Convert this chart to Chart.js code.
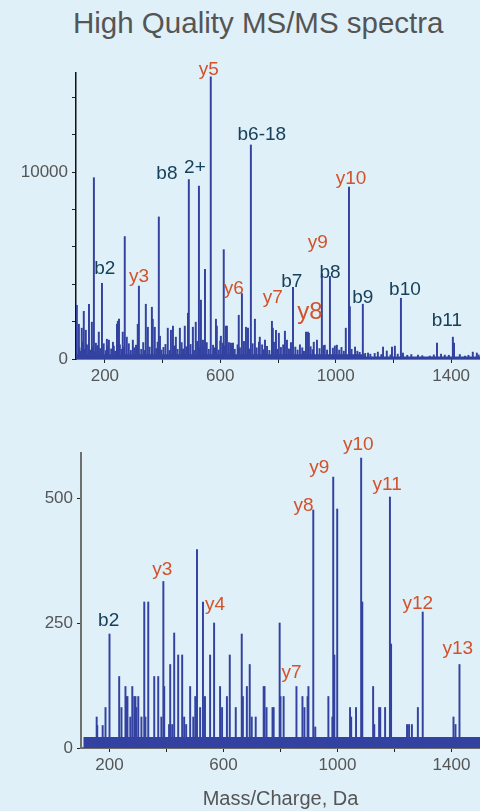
<!DOCTYPE html>
<html>
<head>
<meta charset="utf-8">
<script src="https://cdn.jsdelivr.net/npm/chart.js@4.4.1/dist/chart.umd.min.js"></script>
<style>
  body { margin: 0; background: #dff0f8; }
  #page { position: relative; width: 480px; height: 811px; background: #dff0f8; overflow: hidden; }
  #title { position: absolute; left: 73px; top: 6px; font-family: "Liberation Sans", Arial, sans-serif; font-size: 29.5px; color: #555; white-space: nowrap; }
  .box { position: absolute; left: 0; width: 480px; }
</style>
</head>
<body>
<div id="page">
  <div id="title">High Quality MS/MS spectra</div>
  <div class="box" style="top:0;height:400px"><canvas id="top" width="480" height="400"></canvas></div>
  <div class="box" style="top:420px;height:391px"><canvas id="bottom" width="480" height="391"></canvas></div>
</div>
<script>
// --- data (m/z, intensity) ---
const topPeaks = [
  [162, 9700], [190, 4050], [269, 6550], [318, 3900], [387, 7600], [491, 9600],
  [526, 9250], [533, 3150], [547, 4800], [567, 15100], [612, 5850], [675, 3500],
  [706, 11450], [852, 3830], [952, 4570], [980, 4420], [1046, 9200], [1049, 2800],
  [1094, 2930], [1226, 3250], [1351, 850], [1406, 1170], [1410, 850]
];
const topSmall = [
  [103, 2870], [110, 1860], [120, 1650], [127, 2550], [134, 1540], [145, 2930],
  [155, 1970], [169, 850], [179, 1440], [207, 1060], [214, 1010], [231, 690],
  [242, 1860], [245, 2020], [249, 2130], [262, 1440], [276, 1170], [297, 1010],
  [314, 1860], [342, 2930], [349, 1700], [363, 2770], [366, 2130], [373, 1700],
  [391, 1220], [418, 1650], [429, 1540], [436, 1760], [446, 1170], [460, 1650],
  [477, 1760], [488, 2450], [505, 1700], [515, 1970], [540, 1010], [585, 2130],
  [588, 1760], [602, 1220], [609, 850], [619, 1760], [623, 1760], [637, 850],
  [640, 740], [644, 850], [664, 2340], [689, 1700], [696, 1650], [720, 2130],
  [734, 900], [737, 1170], [755, 1010], [779, 2020], [782, 1650], [793, 1540],
  [803, 1380], [824, 1490], [831, 1010], [897, 1440], [904, 1440], [907, 1380],
  [924, 900], [935, 1010], [962, 740], [1004, 740], [1035, 1650], [1067, 640],
  [1112, 320], [1146, 370], [1164, 640], [1177, 430], [1195, 640], [1205, 690],
  [1233, 320], [1285, 210], [1326, 160], [1378, 210], [1448, 160], [1475, 370], [1489, 320]
];
const topGrass = [
  [112, 600], [117, 420], [124, 900], [131, 520], [138, 760], [150, 480], [158, 640],
  [166, 380], [174, 720], [184, 560], [196, 820], [203, 450], [211, 680], [222, 540],
  [228, 900], [236, 420], [252, 760], [258, 520], [266, 640], [283, 820], [290, 460],
  [302, 600], [308, 740], [326, 520], [333, 880], [338, 460], [355, 640], [378, 560],
  [383, 900], [396, 480], [403, 620], [410, 780], [424, 460], [440, 700], [452, 520],
  [466, 880], [471, 540], [482, 660], [497, 780], [510, 460], [520, 940], [529, 600],
  [538, 700], [553, 880], [560, 520], [575, 740], [580, 600], [594, 480], [600, 960],
  [616, 700], [630, 880], [650, 520], [660, 760], [668, 600], [682, 940], [700, 540],
  [712, 820], [726, 600], [745, 760], [750, 500], [762, 680], [770, 460], [786, 900],
  [798, 520], [810, 620], [818, 760], [838, 540], [845, 880], [860, 640], [868, 480],
  [876, 760], [884, 600], [890, 420], [913, 660], [920, 500], [944, 560], [958, 720],
  [970, 480], [990, 580], [997, 700], [1012, 480], [1020, 620], [1028, 420], [1055, 520],
  [1075, 420], [1083, 360], [1102, 300], [1120, 260], [1135, 300], [1158, 240],
  [1190, 220], [1215, 260], [1248, 200], [1262, 240], [1300, 180], [1340, 220],
  [1365, 260], [1392, 200], [1430, 240], [1460, 200], [1495, 220]
];
// noise floor level (m/z, intensity), stepped
const topFloor = [[100, 260], [1100, 130], [1500, 130]];

const bottomPeaks = [
  [155, 62], [157, 45], [176, 45], [186, 81], [200, 228], [234, 143], [242, 81],
  [256, 123], [259, 103], [263, 103], [273, 62], [280, 123], [287, 103], [291, 103],
  [294, 81], [301, 103], [312, 62], [322, 292], [326, 62], [336, 292], [357, 143],
  [371, 143], [382, 62], [389, 333], [392, 123], [409, 47], [413, 167], [420, 47],
  [427, 230], [441, 186], [455, 186], [462, 62], [469, 47], [483, 123], [494, 62],
  [501, 103], [507, 397], [518, 81], [528, 292], [535, 103], [553, 186], [567, 250],
  [588, 123], [595, 81], [612, 103], [622, 186], [643, 81], [664, 228], [668, 103],
  [682, 123], [692, 167], [699, 62], [713, 62], [741, 123], [744, 123], [751, 81],
  [772, 81], [776, 81], [797, 250], [800, 103], [811, 103], [856, 123], [877, 103],
  [884, 81], [895, 103], [898, 123], [915, 476], [922, 42], [968, 103], [982, 62],
  [985, 542], [989, 186], [999, 478], [1044, 81], [1048, 62], [1065, 81], [1083, 580],
  [1087, 292], [1125, 123], [1129, 47], [1146, 81], [1150, 81], [1167, 81], [1184, 502],
  [1188, 208], [1244, 47], [1251, 47], [1261, 47], [1282, 81], [1299, 272],
  [1407, 62], [1414, 47], [1428, 167]
];
const bottomFloor = [[108, 22], [1500, 22]];

// peak annotations: text, m/z, intensity (label centre)
const topLabels = [
  ["y5", 560, 15480, "y"], ["b6-18", 744, 11970, "b"], ["b8", 415, 9900, "b"],
  ["2+", 512, 10210, "b"], ["b2", 200, 4840, "b"], ["y3", 318, 4420, "y"],
  ["y6", 647, 3780, "y"], ["y7", 782, 3250, "y"], ["y8", 911, 2500, "Y"],
  ["b7", 848, 4150, "b"], ["y9", 938, 6220, "y"], ["b8", 980, 4630, "b"],
  ["y10", 1053, 9630, "y"], ["b9", 1094, 3250, "b"], ["b10", 1240, 3720, "b"],
  ["b11", 1385, 2020, "b"]
];
const bottomLabels = [
  ["b2", 197, 254, "b"], ["y3", 385, 357, "y"], ["y4", 570, 286, "y"],
  ["y7", 839, 151, "y"], ["y8", 881, 484, "y"], ["y9", 936, 560, "y"],
  ["y10", 1073, 607, "y"], ["y11", 1174, 526, "y"], ["y12", 1282, 288, "y"],
  ["y13", 1422, 198, "y"]
];

const xTicks = [200, 400, 600, 800, 1000, 1200, 1400];
const xTickLabels = [200, 600, 1000, 1400];
const topYTicks = [0, 2000, 4000, 6000, 8000, 10000, 12000, 14000];
const topYTickLabels = [0, 10000];
const bottomYTicks = [0, 250, 500];

const FONT = "'Liberation Sans', Arial, sans-serif";
const BAR = "#3342a0";
const ORANGE = "#d2522a";
const TEAL = "#17405a";

function pts(list) {
  return list.map(function (p) { return { x: p[0], y: p[1] }; });
}

const peakLabels = {
  id: "peakLabels",
  afterDatasetsDraw: function (chart, args, opts) {
    const ctx = chart.ctx;
    const xs = chart.scales.x, ys = chart.scales.y;
    ctx.save();
    ctx.textAlign = "center";
    ctx.textBaseline = "middle";
    opts.labels.forEach(function (l) {
      const big = l[3] === "Y";
      ctx.font = (big ? "24px " : "19px ") + FONT;
      ctx.fillStyle = l[3] === "b" ? TEAL : ORANGE;
      ctx.fillText(l[0], xs.getPixelForValue(l[1]), ys.getPixelForValue(l[2]));
    });
    ctx.restore();
  }
};

function makeChart(id, cfg) {
  return new Chart(document.getElementById(id), {
    type: "bar",
    data: {
      datasets: [
        {
          type: "line", data: pts(cfg.floor), stepped: true, fill: "origin",
          backgroundColor: BAR, borderWidth: 0, pointRadius: 0, order: 2
        },
        {
          data: pts(cfg.bars), backgroundColor: BAR, barThickness: 1.3,
          grouped: false, order: 1
        }
      ]
    },
    options: {
      responsive: false,
      animation: false,
      layout: { padding: { top: cfg.padTop, right: 0, left: 0, bottom: 0 } },
      plugins: {
        legend: { display: false },
        tooltip: { enabled: false },
        peakLabels: { labels: cfg.labels }
      },
      scales: {
        x: {
          type: "linear", min: 100, max: 1500, offset: false,
          afterBuildTicks: function (s) { s.ticks = xTicks.map(function (v) { return { value: v }; }); },
          afterFit: function (s) { s.height = cfg.xHeight; },
          border: { color: cfg.xAxisColor, width: cfg.axisWidth },
          grid: { drawOnChartArea: false, offset: false, tickLength: 4, color: "#222" },
          ticks: {
            maxRotation: 0, autoSkip: false, padding: 3,
            color: "#555", font: { family: FONT, size: 17 },
            callback: function (v) { return xTickLabels.indexOf(v) >= 0 ? String(v) : ""; }
          },
          title: {
            display: !!cfg.xTitle, text: cfg.xTitle || "", color: "#555",
            font: { family: FONT, size: 20 }, padding: { top: 0, bottom: 0 }
          }
        },
        y: {
          min: 0, max: cfg.yMax,
          afterBuildTicks: function (s) { s.ticks = cfg.yTicks.map(function (v) { return { value: v }; }); },
          afterFit: function (s) { s.width = cfg.yWidth; },
          border: { color: cfg.yAxisColor, width: cfg.axisWidth },
          grid: { drawOnChartArea: false, tickLength: 4, color: "#222" },
          ticks: {
            autoSkip: false, padding: 4,
            color: "#555", font: { family: FONT, size: 17 },
            callback: cfg.yCallback
          }
        }
      }
    },
    plugins: [peakLabels]
  });
}

makeChart("top", {
  floor: topFloor,
  bars: topPeaks.concat(topSmall, topGrass),
  labels: topLabels,
  padTop: 73, xHeight: 41, yWidth: 76,
  yMax: 15300, yTicks: topYTicks,
  xAxisColor: "#111", yAxisColor: "#111", axisWidth: 1.5,
  yCallback: function (v) { return topYTickLabels.indexOf(v) >= 0 ? String(v) : ""; }
});

makeChart("bottom", {
  floor: bottomFloor,
  bars: bottomPeaks,
  labels: bottomLabels,
  padTop: 33, xHeight: 63, yWidth: 81,
  yMax: 590, yTicks: bottomYTicks,
  xAxisColor: "#6f6f6f", yAxisColor: "#6f6f6f", axisWidth: 2,
  xTitle: "Mass/Charge, Da",
  yCallback: function (v) { return String(v); }
});
</script>
</body>
</html>
